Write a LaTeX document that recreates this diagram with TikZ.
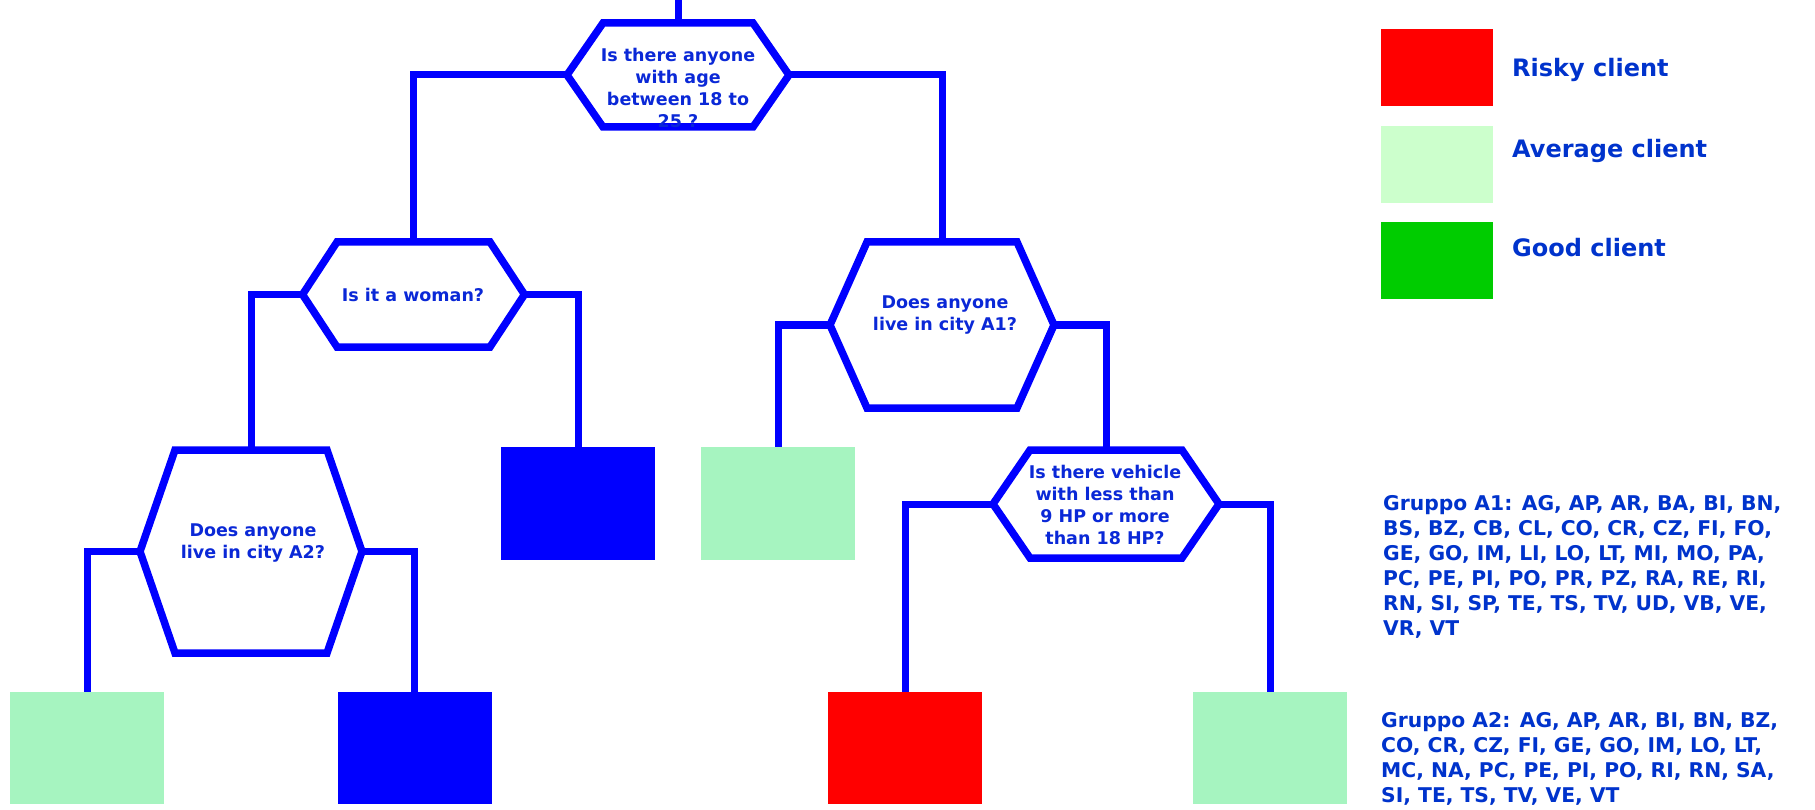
\documentclass[tikz,border=0pt]{standalone}
\usepackage{fontspec}
\setmainfont{DejaVu Sans}
\definecolor{lineblue}{RGB}{0,0,255}
\definecolor{qblue}{RGB}{10,40,215}
\definecolor{txtblue}{RGB}{0,51,204}
\definecolor{leafgreen}{RGB}{166,244,192}
\definecolor{avggreen}{RGB}{204,255,204}
\definecolor{goodgreen}{RGB}{0,204,0}
\definecolor{riskyred}{RGB}{255,0,0}
\tikzset{
  link/.style={draw=lineblue, line width=7pt},
  hexline/.style={draw=lineblue, line width=7.5pt, fill=white, line join=miter},
  hexbody/.style={inner sep=0pt, outer sep=0pt, draw=none},
  qtext/.style={text=qblue, font=\bfseries\fontsize{17.5}{22}\selectfont, align=center, inner sep=0pt},
  leaf/.style={minimum width=154pt, minimum height=113pt, inner sep=0pt, outer sep=0pt, draw=none},
  keybox/.style={minimum width=112pt, minimum height=77pt, inner sep=0pt, outer sep=0pt, draw=none},
  keytext/.style={text=txtblue, font=\bfseries\fontsize{24}{30}\selectfont, anchor=base west, inner sep=0pt},
  grouptext/.style={text=txtblue, font=\bfseries\fontsize{20.3}{25}\selectfont, anchor=base west, align=left, inner sep=0pt}
}
% hexagonal question box: name, centre, top edge width, height, tip extension
\newcommand{\hexq}[5]{%
  \node[hexbody, minimum width=#3pt, minimum height=#4pt] (#1) at (#2) {};
  \draw[hexline] (#1.north west) -- (#1.north east) -- ([xshift=#5pt]#1.east)
    -- (#1.south east) -- (#1.south west) -- ([xshift=-#5pt]#1.west) -- cycle;
  \coordinate (#1-l) at ([xshift=-#5pt]#1.west);
  \coordinate (#1-r) at ([xshift=#5pt]#1.east);
}
\begin{document}
\begin{tikzpicture}[x=1pt, y=-1pt]
\useasboundingbox (0,0) rectangle (1815,810);

% question boxes
\hexq{top}{678,75}{150}{104}{36}
\hexq{woman}{413.5,294.5}{153}{105}{34.5}
\hexq{cityA}{942,325}{150}{166}{37}
\hexq{cityB}{251,551.5}{152}{203}{35}
\hexq{hp}{1106,504}{152}{108}{37}

% leaves
\node[leaf, fill=lineblue]  (blueA) at (578,503.5) {};
\node[leaf, fill=leafgreen] (avgA)  at (778,503.5) {};
\node[leaf, fill=leafgreen, minimum height=112pt] (avgB)  at (87,748) {};
\node[leaf, fill=lineblue,  minimum height=112pt] (blueB) at (414.5,748) {};
\node[leaf, fill=riskyred,  minimum height=112pt] (risky) at (905,748) {};
\node[leaf, fill=leafgreen, minimum height=112pt] (avgC)  at (1270,748) {};

% connectors
\coordinate (entry) at (678,0);
\draw[link] (entry) -- (top.north);
\draw[link] (top-l) -| (woman.north);
\draw[link] (top-r) -| (cityA.north);
\draw[link] (woman-l) -| (cityB.north);
\draw[link] (woman-r) -| (blueA.north);
\draw[link] (cityA-l) -| (avgA.north);
\draw[link] (cityA-r) -| (hp.north);
\draw[link] (cityB-l) -| (avgB.north);
\draw[link] (cityB-r) -| (blueB.north);
\draw[link] (hp-l) -| (risky.north);
\draw[link] (hp-r) -| (avgC.north);

% question texts
\node[qtext] (topq) at (678,88) {Is there anyone\\with age\\between 18 to\\25 ?};
\node[qtext] (womanq) at (413,295) {Is it a woman?};
\node[qtext] (cityAq) at (945,315.5) {Does anyone\\live in city A1?};
\node[qtext] (cityBq) at (253,543.5) {Does anyone\\live in city A2?};
\node[qtext] (hpq) at (1105,504.5) {Is there vehicle\\with less than\\9 HP or more\\than 18 HP?};

% legend
\node[keybox, fill=riskyred]  (keyR) at (1437,67.5) {};
\node[keybox, fill=avggreen]  (keyA) at (1437,165) {};
\node[keybox, fill=goodgreen] (keyG) at (1437,261) {};
\node[keytext] (keyRt) at (1512,77) {Risky client};
\node[keytext] (keyAt) at (1512,158) {Average client};
\node[keytext] (keyGt) at (1512,257) {Good client};

% city groups (base anchor sits on the last line)
\node[grouptext] (grpA) at (1383,635) {Gruppo A1: AG, AP, AR, BA, BI, BN,\\BS, BZ, CB, CL, CO, CR, CZ, FI, FO,\\GE, GO, IM, LI, LO, LT, MI, MO, PA,\\PC, PE, PI, PO, PR, PZ, RA, RE, RI,\\RN, SI, SP, TE, TS, TV, UD, VB, VE,\\VR, VT};
\node[grouptext] (grpB) at (1381,802) {Gruppo A2: AG, AP, AR, BI, BN, BZ,\\CO, CR, CZ, FI, GE, GO, IM, LO, LT,\\MC, NA, PC, PE, PI, PO, RI, RN, SA,\\SI, TE, TS, TV, VE, VT};
\end{tikzpicture}
\end{document}
